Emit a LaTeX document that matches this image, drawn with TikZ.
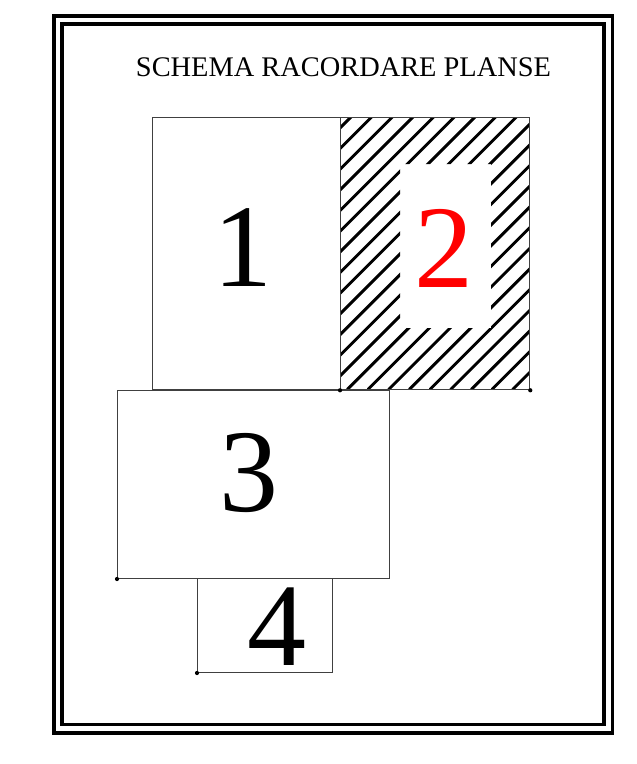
\documentclass[tikz,border=0pt]{standalone}
\usepackage{fontspec}
\setmainfont{Liberation Serif}
\begin{document}
\begin{tikzpicture}[x=1pt,y=-1pt,
  frameline/.style={line width=3.4pt,black},
  boxline/.style={line width=1pt,draw=black!75},
  hatchline/.style={line width=2.9pt,line cap=round},
  bignum/.style={inner sep=0pt,font=\fontsize{118}{118}\selectfont},
  dotmark/.style={circle,fill=black,inner sep=0pt,minimum size=4.2pt}]
\useasboundingbox (0,0) rectangle (637,764);
% frames
\draw[frameline] (54,16) rectangle (612.5,733);
\draw[frameline] (62,24) rectangle (604,724.5);
% title
\node[inner sep=0pt,font=\fontsize{28.4}{29}\selectfont] (title) at (343.5,67.5) {SCHEMA RACORDARE PLANSE};
% hatching of sheet 2
\begin{scope}[even odd rule]
  \clip (340,117) rectangle (529.3,389.3) (400,164) rectangle (491,328);
  \foreach \k in {-10,...,30} {
    \pgfmathsetmacro{\c}{468+20.67*\k}
    \draw[hatchline] (\c-389.3,389.3) -- (\c-117,117);
  }
\end{scope}
% sheets
\node[boxline,draw,minimum width=188pt,minimum height=272.3pt,inner sep=0pt,anchor=north west] (s1) at (152,117) {};
\node[boxline,draw,minimum width=189.3pt,minimum height=272.3pt,inner sep=0pt,anchor=north west] (s2) at (340,117) {};
\node[boxline,draw,minimum width=272pt,minimum height=188pt,inner sep=0pt,anchor=north west] (s3) at (117,390) {};
\node[boxline,draw,minimum width=135pt,minimum height=94pt,inner sep=0pt,anchor=north west] (s4) at (197,578) {};
% corner dots
\node[dotmark] (d1) at (s3.south west) {};
\node[dotmark] (d2) at (s4.south west) {};
\node[dotmark] (d3) at (s2.south west) {};
\node[dotmark] (d4) at (s2.south east) {};
% numbers
\node[bignum] (n1) at (243,248) {1};
\node[bignum,text=red] (n2) at (444,248) {2};
\node[bignum] (n3) at (249,473) {3};
\node[bignum] (n4) at (277,627) {4};
\end{tikzpicture}
\end{document}
